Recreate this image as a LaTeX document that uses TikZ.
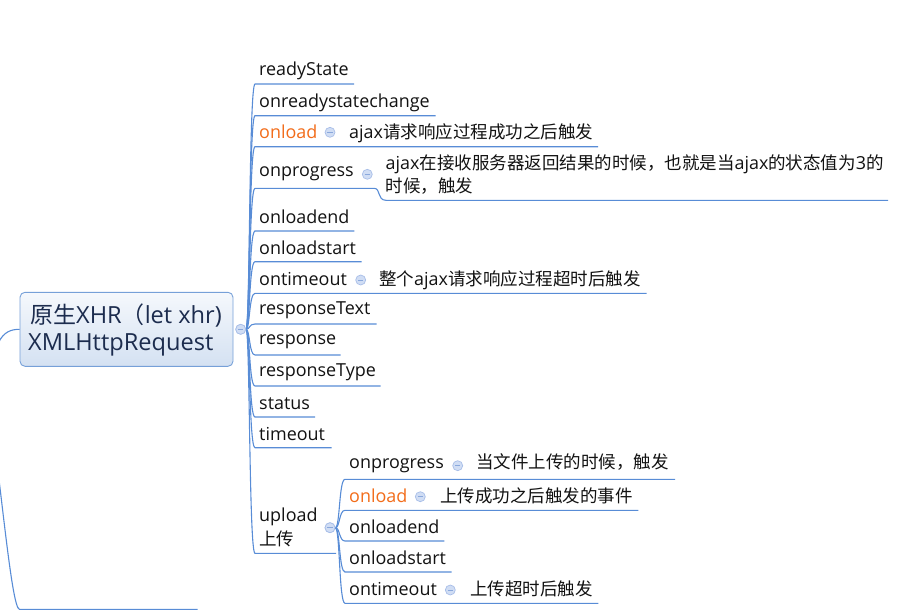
\documentclass[tikz,border=0pt]{standalone}
\usepackage{fontspec}
\setmainfont{Open Sans}[Scale=1.025]
\newfontfamily\cjk{Noto Sans CJK SC}
\usetikzlibrary{shadings}
\definecolor{lineblue}{RGB}{88,140,214}
\definecolor{leafcol}{RGB}{18,18,18}
\definecolor{hotcol}{RGB}{242,108,26}
\definecolor{rootcol}{RGB}{28,44,78}
\definecolor{circfill}{RGB}{208,221,244}
\definecolor{circline}{RGB}{168,190,232}
\definecolor{circminus}{RGB}{138,168,220}
\definecolor{roottop}{RGB}{245,248,252}
\definecolor{rootbot}{RGB}{212,225,242}
\definecolor{rootline}{RGB}{118,160,216}
\newcommand\leaffont{\fontsize{17.5}{21}\selectfont}
\newcommand\rootfont{\fontsize{23}{27}\selectfont}
\begin{document}
\begin{tikzpicture}[x=1pt,y=-1pt,
  conn/.style={draw=lineblue, line width=1.1pt},
  leaf/.style={anchor=base west, inner sep=0pt, text=leafcol, font=\leaffont},
  hot/.style={leaf, text=hotcol},
  rtext/.style={anchor=base west, inner sep=0pt, text=rootcol, font=\rootfont},
  circ/.style={circle, minimum size=10pt, inner sep=0pt, fill=circfill, draw=circline, line width=0.7pt,
    path picture={\draw[circminus, line width=0.9pt] ([xshift=-2.6pt]path picture bounding box.center) -- ([xshift=2.6pt]path picture bounding box.center);}},
  rootbox/.style={rectangle, rounded corners=5pt, minimum width=213pt, minimum height=74pt, inner sep=0pt,
    top color=roottop, bottom color=rootbot, draw=rootline, line width=0.9pt}
]
\useasboundingbox (0,0) rectangle (923,610);

% ---------- left side (grand parent) ----------
\coordinate (gp) at (-12,400);
\node[rootbox] (root) at (126.5,329.3) {};
\node[rtext] (rootA) at (30,323.3) {{\cjk 原生}XHR{\cjk （}let xhr)};
\node[rtext] (rootB) at (28,350.5) {XMLHttpRequest};
\draw[conn] (gp) .. controls (-8,340) and (2,329.3) .. (root.west);
\coordinate (sib) at (19.5,609.3);
\coordinate (sibE) at (197.7,609.3);
\draw[conn] (gp) .. controls (-1,460) and (11,609.3) .. (sib) -- (sibE);

% ---------- root collapse ----------
\node[circ] (rc) at (240.7,329.3) {};

% ---------- root children: texts ----------
\node[leaf] (c1) at (259,75.5) {readyState};
\node[leaf] (c2) at (259,107) {onreadystatechange};
\node[hot]  (c3) at (259,138.3) {onload};
\node[leaf] (c3a) at (349,138.3) {ajax{\cjk 请求响应过程成功之后触发}};
\node[leaf] (c4) at (259,176.7) {onprogress};
\node[leaf] (c4a) at (385.5,169.3) {ajax{\cjk 在接收服务器返回结果的时候，也就是当}ajax{\cjk 的状态值为}3{\cjk 的}};
\node[leaf] (c4b) at (385.5,192.3) {{\cjk 时候，触发}};
\node[leaf] (c5) at (259,223) {onloadend};
\node[leaf] (c6) at (259,254) {onloadstart};
\node[leaf] (c7) at (259,285) {ontimeout};
\node[leaf] (c7a) at (379,285) {{\cjk 整个}ajax{\cjk 请求响应过程超时后触发}};
\node[leaf] (c8) at (259,314.5) {responseText};
\node[leaf] (c9) at (259,344.5) {response};
\node[leaf] (c10) at (259,376) {responseType};
\node[leaf] (c11) at (259,409) {status};
\node[leaf] (c12) at (259,440) {timeout};
\node[leaf] (c13) at (259,521.7) {upload};
\node[leaf] (c13b) at (259,545) {{\cjk 上传}};

% ---------- root children: collapse circles ----------
\node[circ] (k3) at (330,132.3) {};
\node[circ] (k4) at (367.3,174.3) {};
\node[circ] (k7) at (360.7,280) {};
\node[circ] (k13) at (330,527.7) {};

% ---------- root children: connectors + underlines ----------
\coordinate (e1) at (354,84);
\coordinate (e2) at (435.7,115.7);
\coordinate (e3) at (598,146.7);
\coordinate (e4) at (888,200.3);
\coordinate (e5) at (354.3,231);
\coordinate (e6) at (361.7,261.7);
\coordinate (e7) at (646.7,293.3);
\coordinate (e8) at (376.7,324);
\coordinate (e9) at (340.7,355);
\coordinate (e10) at (380.7,386);
\coordinate (e11) at (315,417);
\coordinate (e12) at (331.7,447.7);
\coordinate (e13) at (336,553.3);

\draw[conn] (rc.east) .. controls (250,329.3) and (249,84) .. (255,84) -- (e1);
\draw[conn] (rc.east) .. controls (250,329.3) and (249,115.7) .. (255,115.7) -- (e2);
\draw[conn] (rc.east) .. controls (250,329.3) and (249,146.7) .. (255,146.7) -- (e3);
\draw[conn] (rc.east) .. controls (250,329.3) and (249,188.3) .. (255,188.3) -- (374,188.3)
   .. controls (381,188.3) and (377,200.3) .. (386,200.3) -- (e4);
\draw[conn] (rc.east) .. controls (250,329.3) and (249,231) .. (255,231) -- (e5);
\draw[conn] (rc.east) .. controls (250,329.3) and (249,261.7) .. (255,261.7) -- (e6);
\draw[conn] (rc.east) .. controls (250,329.3) and (249,293.3) .. (255,293.3) -- (e7);
\draw[conn] (rc.east) .. controls (250,329.3) and (249,324) .. (255,324) -- (e8);
\draw[conn] (rc.east) .. controls (250,329.3) and (249,355) .. (255,355) -- (e9);
\draw[conn] (rc.east) .. controls (250,329.3) and (249,386) .. (255,386) -- (e10);
\draw[conn] (rc.east) .. controls (250,329.3) and (249,417) .. (255,417) -- (e11);
\draw[conn] (rc.east) .. controls (250,329.3) and (249,447.7) .. (255,447.7) -- (e12);
\draw[conn] (rc.east) .. controls (250,329.3) and (249,553.3) .. (255,553.3) -- (e13);

% ---------- upload children ----------
\node[leaf] (u1) at (349,468.3) {onprogress};
\node[leaf] (u1a) at (476,468.3) {{\cjk 当文件上传的时候，触发}};
\node[hot]  (u2) at (349,502.7) {onload};
\node[leaf] (u2a) at (440,502.7) {{\cjk 上传成功之后触发的事件}};
\node[leaf] (u3) at (349,533.3) {onloadend};
\node[leaf] (u4) at (349,564) {onloadstart};
\node[leaf] (u5) at (349,595.7) {ontimeout};
\node[leaf] (u5a) at (470,595.7) {{\cjk 上传超时后触发}};

\node[circ] (ku1) at (457.7,465.7) {};
\node[circ] (ku2) at (420.3,496.7) {};
\node[circ] (ku5) at (450.3,590) {};

\coordinate (f1) at (675,479.3);
\coordinate (f2) at (638.3,510.3);
\coordinate (f3) at (444.3,541);
\coordinate (f4) at (451.7,572);
\coordinate (f5) at (598.3,603.3);

\draw[conn] (k13.east) .. controls (340,527.7) and (339,479.3) .. (345,479.3) -- (f1);
\draw[conn] (k13.east) .. controls (340,527.7) and (339,510.3) .. (345,510.3) -- (f2);
\draw[conn] (k13.east) .. controls (340,527.7) and (339,541) .. (345,541) -- (f3);
\draw[conn] (k13.east) .. controls (340,527.7) and (339,572) .. (345,572) -- (f4);
\draw[conn] (k13.east) .. controls (340,527.7) and (339,603.3) .. (345,603.3) -- (f5);

% redraw circles on top of lines
\node[circ] at (rc) {};
\node[circ] at (k13) {};
\end{tikzpicture}
\end{document}
